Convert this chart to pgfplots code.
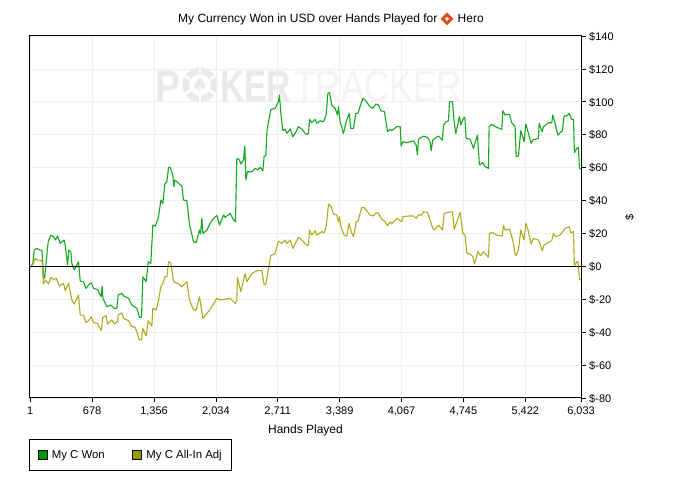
\documentclass[border=0pt]{standalone}
\usepackage{fontspec}
\setmainfont{Liberation Sans}
\newfontfamily\symfont{DejaVu Sans}
\usepackage{pgfplots}
\pgfplotsset{compat=1.18}
\usepackage{pgfplotstable}
\definecolor{gcol}{HTML}{14A91E}
\definecolor{ocol}{HTML}{AFAA1E}
\definecolor{gleg}{HTML}{009900}
\definecolor{oleg}{HTML}{999900}
\definecolor{gridc}{HTML}{EFEFEF}
\definecolor{wm}{HTML}{E9E9E9}
\definecolor{wml}{HTML}{F4F4F4}
\definecolor{dia}{HTML}{E0501A}
\pgfplotstableread{
h v
1 -0.6
29 1.8
44 9.9
73 10.9
102 9.9
128 9.9
146 -6.3
157 -7.3
175 2.8
197 15
226 19
256 18
277 16
299 18.4
329 14
372 16
383 13
409 0.8
423 9.9
445 8.9
456 1.8
482 -2.2
529 2.8
548 -8.9
584 -9.3
610 -13.4
639 -11.3
668 -9.9
694 -13.4
737 -14
777 -18.4
788 -12
796 -19.4
840 -24.5
883 -23.5
920 -25.5
949 -25.5
964 -17.4
1004 -16.4
1022 -18
1077 -19.4
1113 -23.5
1168 -25.5
1197 -31
1219 -31
1234 -6.3
1270 -9.3
1292 2.8
1321 1.8
1343 25.1
1372 24.5
1405 30.2
1431 40.3
1453 38.3
1475 50.4
1497 51.5
1515 60.2
1533 60.2
1562 55.5
1573 48.4
1584 52.5
1661 48.8
1679 40.3
1716 39.9
1745 25.1
1789 15
1818 14.4
1854 22.1
1865 19.7
1880 29.2
1891 20
1935 22.1
1971 26.1
2000 28.6
2044 31
2073 25.1
2117 31.2
2135 29.8
2190 32.2
2227 28.2
2248 27.1
2263 65.6
2292 64.6
2307 62.2
2336 64.6
2351 73.1
2362 52.5
2380 57.5
2427 57.5
2464 59.6
2489 58.6
2519 60.2
2548 58.1
2562 67.1
2581 67.1
2592 81.9
2610 87.9
2635 95.4
2683 96
2719 100.1
2730 104.1
2745 93
2767 82.5
2792 83.3
2811 80.8
2847 83.5
2876 78.8
2902 80.8
2938 84.9
2975 83.3
3022 80.2
3048 80.8
3059 89.3
3084 87.5
3121 89.3
3139 86.9
3176 88.5
3212 87.9
3241 92
3260 105.1
3278 105.6
3303 98
3340 96
3365 92
3376 97
3395 87.9
3431 80.8
3460 87.9
3493 93
3511 83.9
3541 83.9
3566 93
3588 93
3643 102.1
3668 101.1
3723 97
3752 96
3785 98.7
3814 98
3840 94.6
3880 94
3913 81.9
3942 83.3
3960 82.5
4015 84.9
4052 84.9
4062 73.1
4081 75.8
4125 75.2
4198 76.2
4227 73.7
4241 67.7
4252 77.2
4307 79.2
4351 78.4
4380 75.8
4391 70.1
4409 76.8
4471 79.2
4515 76.8
4526 85.9
4555 87.9
4581 88.5
4592 100.1
4625 100.1
4643 87.9
4661 80.8
4701 91
4716 85.9
4745 90
4760 90.6
4774 77.8
4818 77.2
4855 71.7
4898 79.8
4920 61.6
4957 63
4982 60.6
5019 59.6
5026 84.9
5055 86.3
5110 84.5
5165 83.3
5176 94.6
5201 92
5249 92.4
5274 87.3
5311 84.9
5322 66.7
5347 67.1
5373 82.5
5409 75.8
5428 86.5
5457 80.8
5486 74.8
5504 76.8
5566 77.8
5574 86.9
5606 81.9
5621 84.9
5676 87.3
5712 87.3
5723 92
5749 86.9
5778 79.8
5829 82.5
5847 91.4
5877 91.4
5902 93
5931 89.3
5950 89.3
5960 69.1
5986 71.7
6004 72.3
6015 59.6
6033 59
}\wontable
\pgfplotstableread{
h v
1 -0.6
29 1.2
55 4.9
80 3.8
109 3.8
131 2.8
146 -10.7
168 -8.3
201 -10.7
226 -6.7
256 -7.9
285 -7.3
321 -12
365 -10.3
383 -14.8
420 -10.3
438 -15.4
456 -20.5
482 -22.9
529 -17.4
548 -29.6
584 -29.6
610 -34.2
639 -33
668 -30.6
694 -34.2
737 -34.6
777 -39.1
796 -31
832 -30
847 -35
894 -32.6
920 -35
956 -33.6
964 -29.6
1004 -28.2
1022 -31.6
1077 -33
1106 -36.3
1150 -37.1
1197 -44.8
1219 -44.4
1234 -37.7
1270 -42.3
1292 -33
1332 -36.3
1343 -25.5
1380 -26.5
1405 -20.5
1431 -12.4
1453 -10.3
1475 -6.3
1497 -6.3
1515 2.8
1540 2.2
1570 -9.3
1624 -10.7
1661 -12.4
1716 -9.3
1745 -20.5
1789 -26.5
1818 -26.5
1854 -18.4
1891 -31.6
1935 -28.6
1971 -26.1
2044 -19.4
2081 -20.5
2135 -20
2190 -19.4
2227 -21.5
2248 -22.5
2263 -20.5
2270 -6.7
2307 -15.4
2354 -4.3
2373 -9.3
2427 -4.3
2464 -3.2
2482 -2.6
2537 -2.6
2562 -11.3
2581 -10.7
2610 -1.2
2635 6.5
2683 7.9
2719 15.4
2756 14
2792 16
2811 14
2847 16
2876 10.9
2938 17.6
2975 16
3030 12.6
3048 13
3059 22.1
3084 19
3121 21.7
3139 19
3194 21.1
3219 20.5
3241 24.1
3267 37.9
3292 36.7
3322 31.8
3358 31.2
3376 27.1
3387 30.2
3402 24.1
3438 19
3467 18.4
3493 26.1
3515 21.1
3541 18
3570 27.1
3588 27.1
3632 35.9
3657 35.7
3723 31.2
3760 30.6
3789 32.6
3814 32.2
3851 28.6
3887 27.1
3913 24.7
3942 27.1
3960 25.7
4015 29.2
4070 27.1
4081 30.2
4143 30.6
4198 30.6
4227 29.2
4252 31.2
4289 31.2
4307 33.2
4351 32.8
4380 28.2
4409 23.1
4427 22.1
4471 25.1
4515 22.1
4533 32.2
4581 32.8
4625 33.2
4643 22.5
4672 27.1
4709 32.8
4738 20
4763 19
4782 7.9
4818 7.5
4847 5.9
4865 1.4
4902 8.9
4935 6.5
4964 8.9
5019 5.5
5030 19.7
5055 20.7
5110 19
5168 18.4
5183 24.7
5201 22.1
5249 22.7
5285 16
5311 7.5
5322 6.5
5347 9.9
5373 22.1
5409 16
5428 26.1
5457 21.1
5486 13.6
5512 17
5566 16
5585 13.6
5606 9.5
5628 13
5694 15
5712 15.6
5730 20
5756 18
5804 19
5858 23.1
5902 24.1
5920 20.5
5950 21.1
5960 0.2
5986 2.8
6000 2.8
6015 -7.9
6033 -8.3
}\adjtable
\begin{document}
\begin{tikzpicture}[x=1pt,y=1pt,font=\fontsize{11}{13}\selectfont]
\path[use as bounding box,fill=white] (0,0) rectangle (693,478);
% watermark
\node[anchor=base west,inner sep=0pt,text=wm,xscale=0.85,font=\fontsize{44}{44}\selectfont\bfseries] at (155,376) {P};
\fill[wm,even odd rule] (200,393) circle (17.5) (200,393) circle (11);
\foreach \a in {0,60,...,300}{\draw[white,line width=2.5pt] (200,393)+(\a+30:11.5) -- +(\a+30:18);}
\node[text=wm,inner sep=0pt,font=\fontsize{19}{19}\selectfont\symfont] at (200,393) {♠};
\node[anchor=base west,inner sep=0pt,text=wm,xscale=0.76,font=\fontsize{44}{44}\selectfont\bfseries] at (220,376) {KER};
\node[anchor=base west,inner sep=0pt,text=wml,xscale=0.8,font=\fontsize{44}{44}\selectfont] at (294,376) {TRACKER};
% title
\node[anchor=base west,inner sep=0pt,font=\fontsize{12}{14}\selectfont] at (178,455) {My Currency Won in USD over Hands Played for};
\fill[dia] (447,465.5) -- (453.5,459) -- (447,452.5) -- (440.5,459) -- cycle;
\fill[white] (447,461) -- (449,459) -- (447,457) -- (445,459) -- cycle;
\node[anchor=base west,inner sep=0pt,font=\fontsize{12}{14}\selectfont] at (457.5,455) {Hero};
\begin{axis}[
  at={(29.3pt,80pt)},anchor=south west,scale only axis,
  width=552.4pt,height=362pt,
  xmin=-10,xmax=6040,ymin=-80,ymax=140,
  axis line style={black,line width=1pt},
  tick style={black,line width=0.8pt},
  tick align=outside,major tick length=4pt,
  xtick pos=bottom,ytick pos=right,
  yticklabel pos=right,
  xtick={1,678,1356,2034,2711,3389,4067,4745,5422,6033},
  xticklabels={1,678,{1,356},{2,034},{2,711},{3,389},{4,067},{4,745},{5,422},{6,033}},
  ytick={-80,-60,-40,-20,0,20,40,60,80,100,120,140},
  yticklabels={\$-80,\$-60,\$-40,\$-20,\$0,\$20,\$40,\$60,\$80,\$100,\$120,\$140},
  grid=major,major grid style={gridc,line width=0.8pt},
  xlabel={Hands Played},
  xlabel style={at={(axis description cs:0.5,-0.09)},anchor=center,font=\fontsize{12}{14}\selectfont},
  ylabel={\$},
  ylabel style={at={(axis description cs:1.087,0.5)},anchor=center},
  xticklabel style={yshift=-1pt},
  yticklabel style={yshift=-0.5pt},
  legend style={at={(axis description cs:0,-0.1133)},anchor=north west,
    draw=black,line width=0.8pt,legend columns=2,font=\fontsize{11.4}{13}\selectfont,
    inner xsep=7.5pt,inner ysep=8.5pt,
    /tikz/every even column/.style={column sep=25pt}},
  legend cell align=left,
]
\addplot[draw=gcol,line width=1.1pt,line join=round,
  legend image code/.code={\draw[fill=gleg,draw=black,line width=0.7pt] (0pt,-4.5pt) rectangle (9pt,4.5pt);\path (-0.5pt,0pt) (11pt,0pt);}] table[x=h,y=v] {\wontable};
\addlegendentry{My C Won}
\addplot[draw=ocol,line width=1.1pt,line join=round,
  legend image code/.code={\draw[fill=oleg,draw=black,line width=0.7pt] (0pt,-4.5pt) rectangle (9pt,4.5pt);\path (-0.5pt,0pt) (11pt,0pt);}] table[x=h,y=v] {\adjtable};
\addlegendentry{My C All-In Adj}
\addplot[black,line width=1.2pt,forget plot] coordinates {(-10,0) (6040,0)};
\end{axis}
\end{tikzpicture}
\end{document}
